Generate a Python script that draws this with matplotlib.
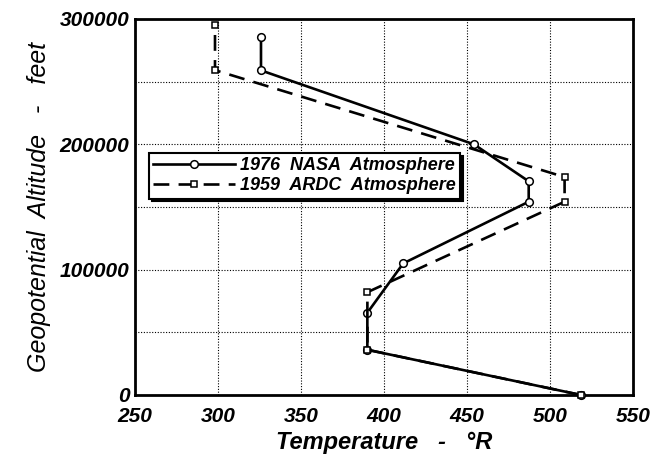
import matplotlib
matplotlib.use("Agg")
import matplotlib.pyplot as plt
from matplotlib.ticker import MultipleLocator

# Data
nasa_T = [518.67, 389.97, 389.97, 411.57, 487.17, 487.17, 454.2, 325.9, 325.9]
nasa_H = [0, 36089, 65617, 104987, 154199, 170500, 200000, 259000, 286000]
ardc_T = [518.69, 389.99, 389.99, 508.79, 508.79, 298.19, 298.19]
ardc_H = [0, 36089, 82021, 154199, 173885, 259186, 295276]

x_ticks = [250, 300, 350, 400, 450, 500, 550]
y_ticks = [0, 100000, 200000, 300000]

plt.rcParams['font.family'] = ['Liberation Sans', 'DejaVu Sans']

fig = plt.figure(figsize=(6.52, 4.57), dpi=100)
ax = fig.add_axes([135/652, 1-395/457, (633-135)/652, (395-19)/457])

ax.plot(nasa_T, nasa_H, color='black', lw=1.9, marker='o', ms=5.5,
        mfc='white', mec='black', mew=1.1, label='1976  NASA  Atmosphere',
        clip_on=False, zorder=3)
ax.plot(ardc_T, ardc_H, color='black', lw=1.9, ls=(0, (6, 3.5)), marker='s', ms=5.0,
        mfc='white', mec='black', mew=1.1, label='1959  ARDC  Atmosphere',
        clip_on=False, zorder=4)

ax.set_xlim(250, 550)
ax.set_ylim(0, 300000)
ax.set_xticks(x_ticks)
ax.set_yticks(y_ticks)
ax.set_yticklabels([str(v) for v in y_ticks])
ax.xaxis.set_minor_locator(MultipleLocator(50))
ax.yaxis.set_minor_locator(MultipleLocator(50000))
ax.grid(True, which='both', color='black', ls=(0, (1, 1.5)), lw=0.8)
ax.tick_params(which='both', length=0)
ax.tick_params(axis='x', pad=9)
ax.tick_params(axis='y', pad=4)
for lab in ax.get_xticklabels() + ax.get_yticklabels():
    lab.set_fontsize(15)
    lab.set_fontweight('bold')
    lab.set_fontstyle('italic')

for sp in ax.spines.values():
    sp.set_linewidth(2.0)
    sp.set_color('black')

ax.set_xlabel('Temperature   -   °R', fontsize=17, fontweight='bold',
              fontstyle='italic')
ax.xaxis.set_label_coords(0.5, -0.097)
ax.xaxis.label.set_va('top')
ax.set_ylabel('Geopotential  Altitude   -   feet', fontsize=18,
              fontstyle='italic', labelpad=6)

leg = ax.legend(loc='upper left', bbox_to_anchor=(0.028, 0.644), borderaxespad=0,
                frameon=True, fancybox=False, shadow={'color': 'black', 'alpha': 1},
                edgecolor='black', handlelength=4.5, handletextpad=0.3,
                borderpad=0.25, labelspacing=0.15,
                prop={'family': 'Liberation Sans', 'weight': 'bold',
                      'style': 'italic', 'size': 13})
leg.get_frame().set_linewidth(1.5)
leg.set_zorder(10)

fig.savefig('out.png', dpi=100)
